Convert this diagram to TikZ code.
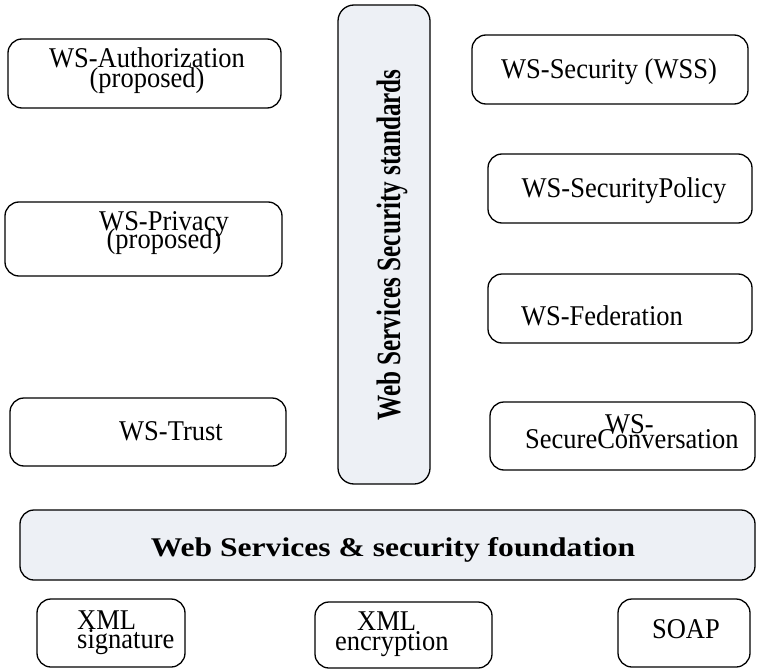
\documentclass[tikz,border=0pt]{standalone}
\usepackage{fontspec}
\usepackage{graphicx}
\setmainfont{Liberation Serif}
\definecolor{panel}{RGB}{237,240,245}
% two stacked lines, baseline of the node = baseline of the first line
\newcommand\stackc[3]{\vtop{\baselineskip=#1\lineskiplimit=-99pt\lineskip=0pt\halign{\hfil##\hfil\cr#2\cr#3\cr}}}
\newcommand\stackl[3]{\vtop{\baselineskip=#1\lineskiplimit=-99pt\lineskip=0pt\halign{##\hfil\cr#2\cr#3\cr}}}
% slightly tall lettering
\newcommand\tall[1]{\scalebox{1}[1.08]{#1}}
\begin{document}
\begin{tikzpicture}[x=1pt,y=-1pt,
  box/.style={draw=black, line width=1.3pt, rounded corners=14pt, inner sep=0pt},
  panelbox/.style={box, fill=panel},
  lab/.style={inner sep=0pt, font=\fontsize{26.5}{20}\selectfont},
  headlab/.style={inner sep=0pt, font=\bfseries\fontsize{27}{27}\selectfont}]
\useasboundingbox (0,0) rectangle (758,669);

% left column
\node[box, minimum width=273pt, minimum height=69pt] (auth) at (144.5,73.5) {};
\node[box, minimum width=277pt, minimum height=74pt] (privacy) at (143.5,239) {};
\node[box, minimum width=276pt, minimum height=68pt] (trust) at (148,432) {};

% vertical panel
\node[panelbox, rounded corners=16pt, minimum width=92pt, minimum height=479pt] (stds) at (384,244.5) {};

% right column
\node[box, minimum width=276pt, minimum height=69pt] (wss) at (610,69.5) {};
\node[box, minimum width=264pt, minimum height=69pt] (policy) at (620,188.5) {};
\node[box, minimum width=264pt, minimum height=69pt] (fed) at (620,308.5) {};
\node[box, minimum width=265pt, minimum height=68pt] (secconv) at (622.5,436) {};

% foundation bar
\node[panelbox, minimum width=735pt, minimum height=70pt] (found) at (387.5,545) {};

% bottom row
\node[box, minimum width=148pt, minimum height=68pt] (xmlsig) at (111,633) {};
\node[box, minimum width=177pt, minimum height=66pt] (xmlenc) at (403.5,635) {};
\node[box, minimum width=132pt, minimum height=68pt] (soap) at (684,633) {};

% labels
\node[lab, anchor=base] (authT) at (147,68) {\tall{\stackc{18.5pt}{WS-Authorization}{(proposed)}}};
\node[lab, anchor=base] (privacyT) at (164,230) {\tall{\stackc{16.7pt}{WS-Privacy}{(proposed)}}};
\node[lab, anchor=base] (trustT) at (171,440) {\tall{WS-Trust}};
\node[lab, anchor=base] (wssT) at (609,79) {\tall{WS-Security (WSS)}};
\node[lab, anchor=base] (policyT) at (624,197) {\tall{WS-SecurityPolicy}};
\node[lab, anchor=base] (fedT) at (602,325) {\tall{WS-Federation}};
\node[lab, anchor=base west] (secconvT) at (525,433) {\tall{\stackl{13.9pt}{\hskip80pt WS-}{SecureConversation}}};
\node[lab, anchor=base west] (xmlsigT) at (77,629) {\tall{\stackl{18.5pt}{XML}{signature}}};
\node[lab, anchor=base west] (xmlencT) at (335,630) {\tall{\stackl{19.4pt}{\hskip22pt XML}{encryption}}};
\node[lab, anchor=base] (soapT) at (686,638) {\tall{SOAP}};

\node[headlab, anchor=base] (foundT) at (393,556) {\scalebox{1.17}[1]{Web Services \& security foundation}};
\node[inner sep=0pt, rotate=90, anchor=base] (stdsT) at (400,245)
  {\scalebox{0.74}[1]{\fontsize{34}{34}\selectfont\bfseries Web Services Security standards}};
\end{tikzpicture}
\end{document}
